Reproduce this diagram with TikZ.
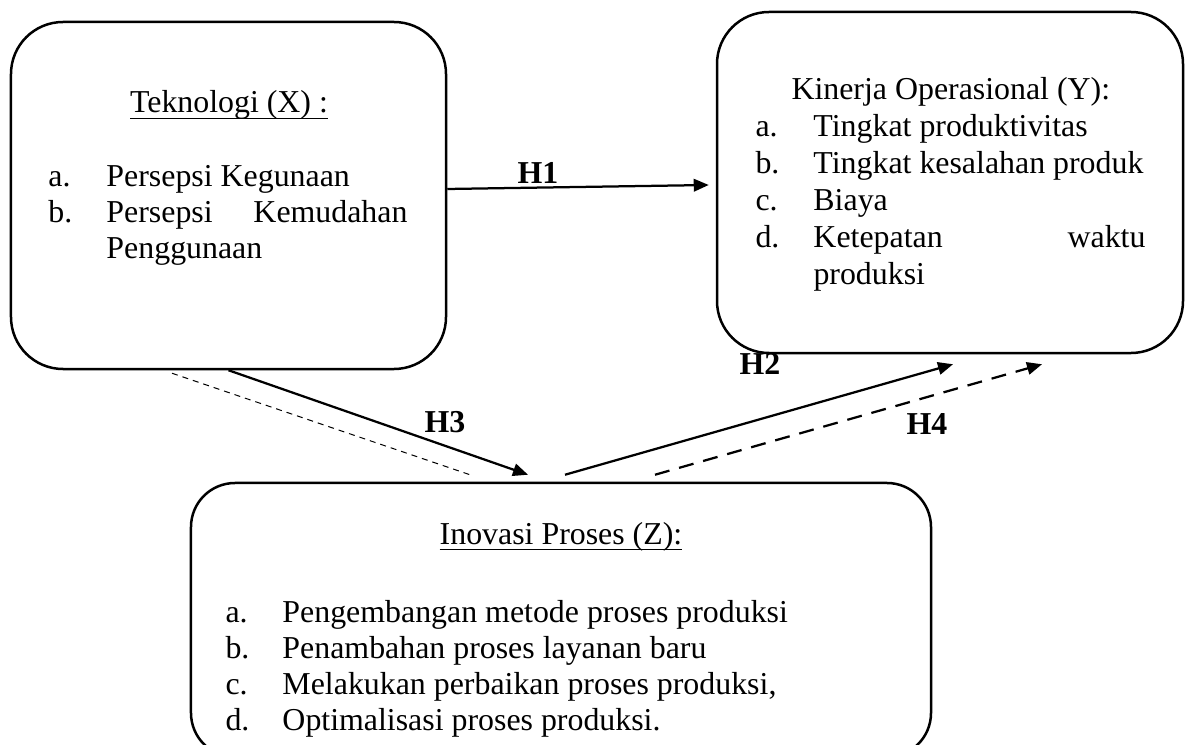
\documentclass[tikz,border=0pt]{standalone}
\usepackage{fontspec}
\setmainfont{Liberation Serif}
\usetikzlibrary{arrows.meta}
\newcommand{\headline}[1]{\underline{\smash{#1}\vrule width0pt depth0.8pt}}

\begin{document}
\begin{tikzpicture}[x=0.4pt,y=-0.4pt,auto]
   \useasboundingbox (0,0) rectangle (1187,745);
   \clip (0,0) rectangle (1187,745);
   % boxes
   \begin{scope}[every node/.style={draw=black,line width=1pt,rounded corners=20.8pt,inner sep=0pt}]
    \node[minimum width=174pt,minimum height=138.8pt] (tek) at (228.5,195.5) {};
    \node[minimum width=186.4pt,minimum height=136.4pt] (kin) at (950,182.5) {};
    \node[minimum width=296pt,minimum height=109.6pt,rounded corners=17.6pt] (ino) at (561,620) {};
   \end{scope}
   % texts
   \begin{scope}[every node/.style={inner sep=0pt,font=\fontsize{12.75}{14.4}\selectfont}]
    \node[anchor=base] (tekhead) at (229,113) {\headline{Teknologi (X) :}};
    \node[anchor=base west] (teklist) at (48,187) {\begin{tabular}[t]{@{}p{23.2pt}@{}p{120.4pt}@{}}
      a. & Persepsi Kegunaan\\
      b. & Persepsi\hfill Kemudahan\\
         & Penggunaan
    \end{tabular}};
    \node[anchor=base west] (kinhead) at (791,100) {Kinerja Operasional (Y):};
    \node[anchor=base west,font=\fontsize{12.75}{14.8}\selectfont] (kinlist) at (755,137) {\begin{tabular}[t]{@{}p{23.2pt}@{}p{132.8pt}@{}}
      a. & Tingkat produktivitas\\
      b. & Tingkat kesalahan produk\\
      c. & Biaya\\
      d. & Ketepatan\hfill waktu\\
         & produksi
    \end{tabular}};
    \node[anchor=base] (inohead) at (561,544) {\headline{Inovasi Proses (Z):}};
    \node[anchor=base west] (inolist) at (225,622) {\begin{tabular}[t]{@{}p{22.8pt}@{}l@{}}
      a. & Pengembangan metode proses produksi\\
      b. & Penambahan proses layanan baru\\
      c. & Melakukan perbaikan proses produksi,\\
      d. & Optimalisasi proses produksi.
    \end{tabular}};
   \end{scope}
   % hypothesis labels
   \begin{scope}[every node/.style={inner sep=0pt,font=\fontsize{12.75}{14.4}\selectfont\bfseries}]
    \node (h1) at (538,173) {H1};
    \node (h2) at (760,364) {H2};
    \node (h3) at (445,422) {H3};
    \node (h4) at (927,424) {H4};
   \end{scope}
   % arrows
   \begin{scope}[line width=0.9pt,>={Triangle[length=6pt,width=5pt]}]
    \draw[->] ([yshift=2.6pt]tek.east) -- ([xshift=-2.8pt,yshift=-1pt]kin.west);
    \draw[->] (tek.south) -- ([xshift=-13.2pt,yshift=2.8pt]ino.north);
    \draw[line width=0.4pt,dash pattern=on 2.4pt off 2pt] ([xshift=-22.6pt,yshift=-1.2pt]tek.south) -- ([xshift=-36.4pt,yshift=2.8pt]ino.north);
    \draw[->] ([xshift=1.6pt,yshift=2.8pt]ino.north) -- ([xshift=1.2pt,yshift=-4pt]kin.south);
    \draw[->,dash pattern=on 6pt off 4pt] ([xshift=37.6pt,yshift=2.8pt]ino.north) -- ([xshift=36.8pt,yshift=-4pt]kin.south);
   \end{scope}
\end{tikzpicture}
\end{document}
